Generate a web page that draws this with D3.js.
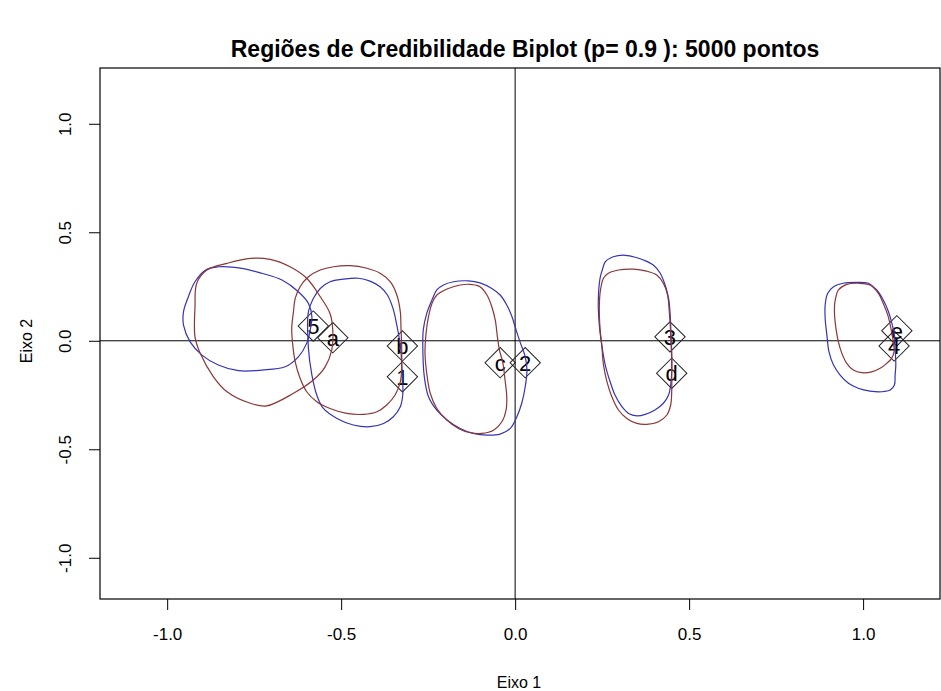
<!DOCTYPE html>
<html>
<head>
<meta charset="utf-8">
<script src="https://cdn.jsdelivr.net/npm/d3@7"></script>
<style>
  body { margin: 0; background: #fff; }
  svg text { font-family: "Liberation Sans", Arial, sans-serif; }
</style>
</head>
<body>
<svg id="chart" width="941" height="691"></svg>
<script>
// labelled points (biplot markers)
const pointLabels = ["5", "a", "b", "1", "c", "2", "3", "d", "e", "4"];
const pointX = [-0.580, -0.524, -0.324, -0.324, -0.043, 0.029, 0.445, 0.450, 1.097, 1.089];
const pointY = [0.068, 0.014, -0.024, -0.166, -0.101, -0.101, 0.018, -0.150, 0.046, -0.024];

const xTicks = [-1.0, -0.5, 0.0, 0.5, 1.0];
const yTicks = [-1.0, -0.5, 0.0, 0.5, 1.0];

// credibility region contours, [x, y] in axis units
const blue1 = [[-0.886,0.329],[-0.853,0.341],[-0.785,0.334],[-0.728,0.311],[-0.670,0.280],[-0.623,0.226],[-0.594,0.172],[-0.584,0.111],[-0.589,0.049],[-0.599,-0.012],[-0.623,-0.074],[-0.661,-0.120],[-0.728,-0.135],[-0.795,-0.138],[-0.853,-0.112],[-0.900,-0.066],[-0.934,-0.005],[-0.953,0.072],[-0.953,0.134],[-0.939,0.203],[-0.920,0.272]];
const red1 = [[-0.761,0.380],[-0.704,0.375],[-0.647,0.341],[-0.599,0.288],[-0.560,0.203],[-0.532,0.126],[-0.524,0.049],[-0.527,-0.043],[-0.546,-0.120],[-0.580,-0.181],[-0.637,-0.242],[-0.714,-0.300],[-0.761,-0.288],[-0.828,-0.235],[-0.867,-0.166],[-0.905,-0.058],[-0.920,0.018],[-0.920,0.157],[-0.915,0.265],[-0.886,0.326],[-0.828,0.357]];
const blue2 = [[-0.594,0.134],[-0.594,-0.035],[-0.584,-0.158],[-0.570,-0.250],[-0.551,-0.312],[-0.512,-0.358],[-0.465,-0.388],[-0.417,-0.396],[-0.378,-0.381],[-0.350,-0.350],[-0.330,-0.304],[-0.323,-0.250],[-0.323,-0.189],[-0.326,-0.112],[-0.328,-0.051],[-0.333,0.011],[-0.340,0.072],[-0.351,0.149],[-0.367,0.211],[-0.388,0.249],[-0.417,0.275],[-0.450,0.288],[-0.493,0.284],[-0.532,0.272],[-0.560,0.241],[-0.580,0.195]];
const red2 = [[-0.522,0.341],[-0.474,0.346],[-0.426,0.334],[-0.388,0.311],[-0.359,0.272],[-0.340,0.211],[-0.330,0.134],[-0.328,0.057],[-0.326,-0.035],[-0.326,-0.127],[-0.330,-0.189],[-0.345,-0.250],[-0.369,-0.296],[-0.397,-0.327],[-0.436,-0.339],[-0.484,-0.335],[-0.532,-0.312],[-0.570,-0.281],[-0.599,-0.235],[-0.618,-0.173],[-0.632,-0.097],[-0.639,-0.020],[-0.642,0.057],[-0.637,0.134],[-0.632,0.195],[-0.618,0.249],[-0.594,0.295],[-0.560,0.326]];
const blue3 = [[-0.206,0.257],[-0.177,0.272],[-0.134,0.276],[-0.101,0.267],[-0.067,0.241],[-0.043,0.211],[-0.024,0.165],[-0.009,0.111],[0.003,0.049],[0.014,-0.005],[0.029,-0.074],[0.034,-0.135],[0.029,-0.212],[0.019,-0.288],[0.005,-0.350],[-0.014,-0.404],[-0.043,-0.430],[-0.081,-0.435],[-0.120,-0.427],[-0.158,-0.404],[-0.196,-0.365],[-0.225,-0.320],[-0.249,-0.258],[-0.261,-0.166],[-0.265,-0.058],[-0.264,0.049],[-0.254,0.126],[-0.239,0.188],[-0.225,0.234]];
const red3 = [[-0.225,0.211],[-0.192,0.241],[-0.158,0.257],[-0.129,0.260],[-0.101,0.249],[-0.081,0.211],[-0.067,0.157],[-0.057,0.095],[-0.051,0.018],[-0.045,-0.043],[-0.035,-0.104],[-0.029,-0.181],[-0.024,-0.258],[-0.026,-0.319],[-0.038,-0.373],[-0.062,-0.412],[-0.096,-0.427],[-0.129,-0.424],[-0.163,-0.404],[-0.196,-0.365],[-0.225,-0.312],[-0.244,-0.242],[-0.254,-0.150],[-0.259,-0.058],[-0.256,0.034],[-0.249,0.111],[-0.239,0.172]];
const blue4 = [[0.259,0.364],[0.282,0.387],[0.311,0.395],[0.340,0.387],[0.369,0.372],[0.397,0.349],[0.417,0.311],[0.431,0.257],[0.441,0.195],[0.445,0.134],[0.447,0.072],[0.448,-0.005],[0.450,-0.081],[0.450,-0.143],[0.447,-0.204],[0.441,-0.250],[0.426,-0.288],[0.402,-0.319],[0.374,-0.339],[0.350,-0.346],[0.326,-0.335],[0.307,-0.304],[0.287,-0.250],[0.273,-0.189],[0.259,-0.112],[0.249,-0.020],[0.242,0.072],[0.239,0.180],[0.244,0.288],[0.252,0.334]];
const red4 = [[0.254,0.288],[0.268,0.311],[0.297,0.326],[0.340,0.330],[0.378,0.321],[0.407,0.303],[0.426,0.265],[0.438,0.211],[0.443,0.134],[0.447,0.041],[0.450,-0.051],[0.450,-0.143],[0.450,-0.235],[0.447,-0.296],[0.436,-0.342],[0.412,-0.373],[0.378,-0.385],[0.350,-0.381],[0.321,-0.358],[0.297,-0.319],[0.278,-0.258],[0.264,-0.189],[0.254,-0.112],[0.249,-0.020],[0.244,0.057],[0.242,0.165],[0.246,0.241]];
const blue5 = [[0.915,0.249],[0.943,0.265],[0.977,0.269],[1.015,0.265],[1.039,0.234],[1.058,0.188],[1.073,0.134],[1.084,0.072],[1.090,0.026],[1.092,-0.035],[1.094,-0.112],[1.092,-0.158],[1.090,-0.204],[1.078,-0.227],[1.054,-0.235],[1.020,-0.232],[0.986,-0.219],[0.958,-0.196],[0.934,-0.158],[0.915,-0.112],[0.902,-0.051],[0.896,0.026],[0.891,0.103],[0.891,0.165],[0.898,0.218]];
const red5 = [[0.920,0.188],[0.929,0.234],[0.953,0.260],[0.986,0.265],[1.020,0.257],[1.044,0.218],[1.058,0.172],[1.071,0.118],[1.080,0.057],[1.087,-0.005],[1.089,-0.051],[1.082,-0.081],[1.068,-0.104],[1.049,-0.127],[1.025,-0.143],[0.996,-0.147],[0.972,-0.135],[0.953,-0.104],[0.939,-0.058],[0.929,-0.005],[0.922,0.057],[0.918,0.118],[0.918,0.165]];

const blueRegions = [blue1, blue2, blue3, blue4, blue5];
const redRegions = [red1, red2, red3, red4, red5];

const blueCol = "#3434b4";
const redCol = "#8b3535";

const svg = d3.select("#chart");
const plotLeft = 100, plotRight = 940, plotTop = 68, plotBottom = 599;

const x = d3.scaleLinear().domain([-1.193, 1.221]).range([plotLeft, plotRight]);
const y = d3.scaleLinear().domain([-1.19, 1.257]).range([plotBottom, plotTop]);

// R style labels: plain hyphen for negatives
const fmt = d => d.toFixed(1);

// title
svg.append("text")
    .attr("x", 525)
    .attr("y", 57)
    .attr("text-anchor", "middle")
    .style("font-size", "23px")
    .style("font-weight", "bold")
    .text("Regiões de Credibilidade Biplot (p= 0.9 ): 5000 pontos");

// axes
const xAxis = d3.axisBottom(x).tickValues(xTicks).tickSize(11).tickPadding(18).tickFormat(fmt);
const gx = svg.append("g")
    .attr("transform", "translate(0," + plotBottom + ")")
    .call(xAxis);
gx.select(".domain").remove();
gx.selectAll("text").style("font-size", "17px").attr("fill", "#000");
gx.selectAll("line").attr("stroke", "#000");

const yAxis = d3.axisLeft(y).tickValues(yTicks).tickSize(11).tickFormat(fmt);
const gy = svg.append("g")
    .attr("transform", "translate(" + plotLeft + ",0)")
    .call(yAxis);
gy.select(".domain").remove();
gy.selectAll("line").attr("stroke", "#000");
gy.selectAll("text")
    .style("font-size", "17px")
    .attr("fill", "#000")
    .attr("text-anchor", "middle")
    .attr("x", null)
    .attr("transform", "translate(-35,0) rotate(-90)")
    .attr("y", 0)
    .attr("dy", "0.35em");

// axis titles
svg.append("text")
    .attr("x", 519)
    .attr("y", 688)
    .attr("text-anchor", "middle")
    .style("font-size", "16px")
    .text("Eixo 1");

svg.append("text")
    .attr("transform", "translate(32,341) rotate(-90)")
    .attr("text-anchor", "middle")
    .style("font-size", "16px")
    .text("Eixo 2");

// plot box
svg.append("rect")
    .attr("x", plotLeft).attr("y", plotTop)
    .attr("width", plotRight - plotLeft).attr("height", plotBottom - plotTop)
    .attr("fill", "none").attr("stroke", "#000").attr("stroke-width", 1.2);

// reference lines through origin
svg.append("line")
    .attr("x1", plotLeft).attr("x2", plotRight)
    .attr("y1", y(0)).attr("y2", y(0))
    .attr("stroke", "#000");
svg.append("line")
    .attr("x1", x(0)).attr("x2", x(0))
    .attr("y1", plotTop).attr("y2", plotBottom)
    .attr("stroke", "#000");

// diamonds + labels
const pts = pointLabels.map((l, i) => ({label: l, x: pointX[i], y: pointY[i]}));
const diamond = d3.symbol().type(d3.symbolSquare).size(460);

svg.selectAll("path.pt")
    .data(pts)
    .enter().append("path")
    .attr("class", "pt")
    .attr("d", diamond)
    .attr("transform", d => `translate(${x(d.x)},${y(d.y)}) rotate(45)`)
    .attr("fill", "none")
    .attr("stroke", "#222")
    .attr("stroke-width", 1);

svg.selectAll("text.lbl")
    .data(pts)
    .enter().append("text")
    .attr("class", "lbl")
    .attr("x", d => x(d.x))
    .attr("y", d => y(d.y))
    .attr("dy", "0.36em")
    .attr("text-anchor", "middle")
    .style("font-size", "22px")
    .text(d => d.label);

// contours
const line = d3.line()
    .x(d => x(d[0]))
    .y(d => y(d[1]))
    .curve(d3.curveCatmullRomClosed);

svg.selectAll("path.blue")
    .data(blueRegions)
    .enter().append("path")
    .attr("class", "blue")
    .attr("d", line)
    .attr("fill", "none")
    .attr("stroke", blueCol)
    .attr("stroke-width", 1.2);

svg.selectAll("path.red")
    .data(redRegions)
    .enter().append("path")
    .attr("class", "red")
    .attr("d", line)
    .attr("fill", "none")
    .attr("stroke", redCol)
    .attr("stroke-width", 1.2);
</script>
</body>
</html>
